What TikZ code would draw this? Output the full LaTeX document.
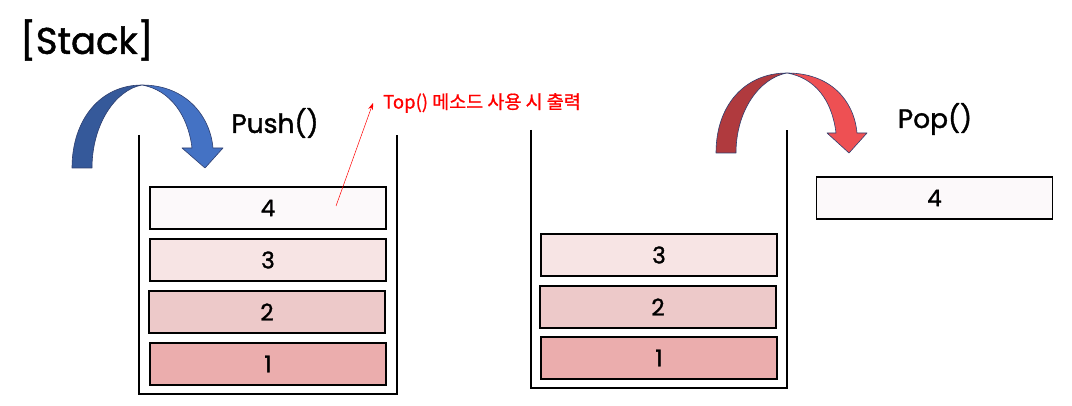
\documentclass[tikz,border=0pt]{standalone}
\usepackage{fontspec}
\setmainfont{Poppins}[FakeBold=1.4]
\newfontfamily\krfont{Noto Sans CJK KR}[FakeBold=0.8]
\usetikzlibrary{arrows.meta,positioning}

\definecolor{lay1}{HTML}{EBADAD}
\definecolor{lay2}{HTML}{EDC9C9}
\definecolor{lay3}{HTML}{F7E4E4}
\definecolor{lay4}{HTML}{FCF9FA}
\definecolor{pushdark}{HTML}{35599A}
\definecolor{pushlight}{HTML}{4472C4}
\definecolor{popdark}{HTML}{B03A3E}
\definecolor{poplight}{HTML}{EE5053}
\definecolor{arrowline}{HTML}{2F3F6F}

\begin{document}
\begin{tikzpicture}[
    x=1pt, y=-1pt,
    >={Stealth[length=7pt,width=5pt]},
    item/.style={
        rectangle,
        draw=black,
        line width=1.1pt,
        minimum width=236pt,
        minimum height=42pt,
        inner sep=0pt,
        font=\fontsize{23}{25}\selectfont
    },
    wall/.style={line width=2.6pt, black},
    opname/.style={font=\fontsize{26.5}{28}\selectfont},
    curvearrow/.style={draw=arrowline, line width=0.6pt, line join=round}
]
\useasboundingbox (0,0) rectangle (1072,406);

% ==================== Title ====================
\node[font=\fontsize{37}{40}\selectfont, anchor=west, inner sep=0pt] (title) at (20,40) {[Stack]};

% ==================== Left stack: Push ====================
\draw[wall] (139,135) |- (397,394) -- (397,135);

\node[item, fill=lay1] (l1) at (268,364) {1};
\node[item, fill=lay2] (l2) at (267,312) {2};
\node[item, fill=lay3] (l3) at (268,260) {3};
\node[item, fill=lay4] (l4) at (268,208) {4};

% push arrow
\filldraw[curvearrow, fill=pushdark] (72,168) .. controls (72,120) and (100,85) .. (142,85)
    .. controls (115,90) and (92,125) .. (92,168) -- cycle;
\filldraw[curvearrow, fill=pushlight] (142,85) .. controls (185,85) and (210,115) .. (213,148)
    -- (223,148) -- (205,168) -- (182,148) -- (192,148)
    .. controls (188,115) and (170,90) .. (142,85) -- cycle;
\node[opname] (push) at (275,123) {Push()};

% Top() annotation
\coordinate (topsrc) at (336,206);
\node[text=red, font=\krfont\fontsize{18.5}{20}\selectfont, anchor=west, inner xsep=10pt, inner ysep=2pt] (toplbl) at (373,103) {Top() 메소드 사용 시 출력};
\draw[->, red, line width=0.5pt] (topsrc) -- (toplbl.west);

% ==================== Right stack: Pop ====================
\draw[wall] (531,130) |- (787,388) -- (787,130);

\node[item, fill=lay1] (r1) at (659,358) {1};
\node[item, fill=lay2] (r2) at (658,307) {2};
\node[item, fill=lay3] (r3) at (659,255) {3};

% pop arrow
\filldraw[curvearrow, fill=popdark] (716,153) .. controls (716,105) and (745,73) .. (787,73)
    .. controls (760,78) and (736,110) .. (736,153) -- cycle;
\filldraw[curvearrow, fill=poplight] (787,73) .. controls (830,73) and (854,100) .. (857,133)
    -- (867,133) -- (849,153) -- (827,133) -- (836,133)
    .. controls (832,100) and (815,78) .. (787,73) -- cycle;
\node[opname] (pop) at (935,119) {Pop()};

\node[item, fill=lay4] (out4) at (934.5,198) {4};

\end{tikzpicture}
\end{document}
